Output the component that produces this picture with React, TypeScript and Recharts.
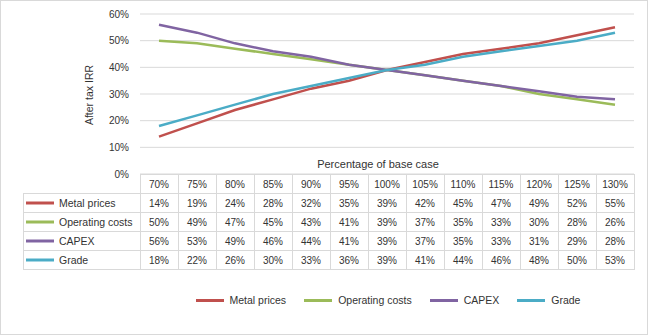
import React from "react";
import { CartesianGrid, Legend, Line, LineChart, XAxis, YAxis } from "recharts";

const categories = ["70%", "75%", "80%", "85%", "90%", "95%", "100%", "105%", "110%", "115%", "120%", "125%", "130%"];
const metalPrices = [14, 19, 24, 28, 32, 35, 39, 42, 45, 47, 49, 52, 55];
const operatingCosts = [50, 49, 47, 45, 43, 41, 39, 37, 35, 33, 30, 28, 26];
const capex = [56, 53, 49, 46, 44, 41, 39, 37, 35, 33, 31, 29, 28];
const grade = [18, 22, 26, 30, 33, 36, 39, 41, 44, 46, 48, 50, 53];
const yTicks = [0, 10, 20, 30, 40, 50, 60];

const seriesList = [
  { key: "metal", name: "Metal prices", color: "#C0504D", values: metalPrices },
  { key: "opex", name: "Operating costs", color: "#9BBB59", values: operatingCosts },
  { key: "capex", name: "CAPEX", color: "#8064A2", values: capex },
  { key: "grade", name: "Grade", color: "#4BACC6", values: grade },
];

const data = categories.map((cat, i) => {
  const row: Record<string, string | number> = { cat };
  seriesList.forEach((s) => {
    row[s.key] = s.values[i];
  });
  return row;
});

const W = 648;
const H = 335;
const PLOT_LEFT = 140;
const PLOT_RIGHT = 634;
const PLOT_TOP = 14;
const PLOT_BOTTOM = 174;
const Y_AXIS_W = 60;
const TABLE_H = 95;
const ROW_H = 19;
const COL_W = (PLOT_RIGHT - PLOT_LEFT) / categories.length;
const TABLE_LEFT = 22;

const FONT = '"Liberation Sans", Arial, sans-serif';
const TEXT = "#333333";
const BORDER = "#d9d9d9";

const cellText = {
  fontFamily: FONT,
  fontSize: 10,
  fill: TEXT,
};

// each x tick draws one column of the data table under the plot
const TableTick = (props: any) => {
  const { x, y, index, payload } = props;
  const left = Math.round(x - COL_W / 2) + 0.5;
  const right = Math.round(x + COL_W / 2) + 0.5;
  const top = Math.round(y) + 0.5;

  return (
    <g>
      {index === 0 &&
        seriesList.map((s, r) => {
          const ry = top + ROW_H * (r + 1);
          return (
            <g key={s.key}>
              <rect x={TABLE_LEFT + 0.5} y={ry} width={left - TABLE_LEFT - 0.5} height={ROW_H} fill="none" stroke={BORDER} />
              <line x1={25} x2={53} y1={ry + ROW_H / 2} y2={ry + ROW_H / 2} stroke={s.color} strokeWidth={3} />
              <text x={58} y={ry + ROW_H / 2} dominantBaseline="central" {...cellText} fontSize={10.5}>
                {s.name}
              </text>
            </g>
          );
        })}
      <rect x={left} y={top} width={right - left} height={ROW_H} fill="none" stroke={BORDER} />
      <text x={x} y={top + ROW_H / 2} textAnchor="middle" dominantBaseline="central" {...cellText}>
        {payload.value}
      </text>
      {seriesList.map((s, r) => {
        const ry = top + ROW_H * (r + 1);
        return (
          <g key={s.key}>
            <rect x={left} y={ry} width={right - left} height={ROW_H} fill="none" stroke={BORDER} />
            <text x={x} y={ry + ROW_H / 2} textAnchor="middle" dominantBaseline="central" {...cellText}>
              {s.values[index]}%
            </text>
          </g>
        );
      })}
    </g>
  );
};

const LegendContent = () => (
  <div style={{ display: "flex", justifyContent: "center", alignItems: "center", fontFamily: FONT, fontSize: 10.5, color: TEXT }}>
    {seriesList.map((s) => (
      <div key={s.key} style={{ display: "flex", alignItems: "center", marginRight: 18 }}>
        <div style={{ width: 28, height: 3, background: s.color, marginRight: 6 }} />
        <span>{s.name}</span>
      </div>
    ))}
  </div>
);

export default function App() {
  return (
    <div
      style={{
        position: "absolute",
        left: 0,
        top: 0,
        width: W,
        height: H,
        boxSizing: "border-box",
        border: `1px solid ${BORDER}`,
        background: "#fff",
      }}
    >
      <LineChart
        width={W - 2}
        height={H - 2}
        data={data}
        margin={{
          top: PLOT_TOP - 1,
          left: PLOT_LEFT - 1 - Y_AXIS_W,
          right: W - 1 - PLOT_RIGHT,
          bottom: H - 1 - PLOT_BOTTOM - TABLE_H,
        }}
      >
        <CartesianGrid vertical={false} stroke={BORDER} />
        <XAxis
          dataKey="cat"
          height={TABLE_H}
          axisLine={false}
          tickLine={false}
          tickSize={0}
          tickMargin={0}
          interval={0}
          padding={{ left: COL_W / 2, right: COL_W / 2 }}
          tick={<TableTick />}
        />
        <YAxis
          width={Y_AXIS_W}
          domain={[0, 60]}
          ticks={yTicks}
          axisLine={false}
          tickLine={false}
          tickSize={0}
          tickMargin={11}
          tickFormatter={(v: number) => `${v}%`}
          tick={{ fontFamily: FONT, fontSize: 10, fill: TEXT }}
        />
        {seriesList.map((s) => (
          <Line
            key={s.key}
            type="linear"
            dataKey={s.key}
            name={s.name}
            stroke={s.color}
            strokeWidth={2.5}
            dot={false}
            activeDot={false}
            isAnimationActive={false}
          />
        ))}
        <Legend
          verticalAlign="middle"
          align="center"
          content={<LegendContent />}
          wrapperStyle={{ top: 293, left: PLOT_LEFT + 9, width: PLOT_RIGHT - PLOT_LEFT }}
        />
      </LineChart>
      <div
        style={{
          position: "absolute",
          left: 88,
          top: 94,
          transform: "translate(-50%, -50%) rotate(-90deg)",
          fontFamily: FONT,
          fontSize: 10.5,
          color: TEXT,
          whiteSpace: "nowrap",
        }}
      >
        After tax IRR
      </div>
      <div
        style={{
          position: "absolute",
          left: 377,
          top: 163,
          transform: "translate(-50%, -50%)",
          fontFamily: FONT,
          fontSize: 11,
          color: TEXT,
          whiteSpace: "nowrap",
        }}
      >
        Percentage of base case
      </div>
    </div>
  );
}
